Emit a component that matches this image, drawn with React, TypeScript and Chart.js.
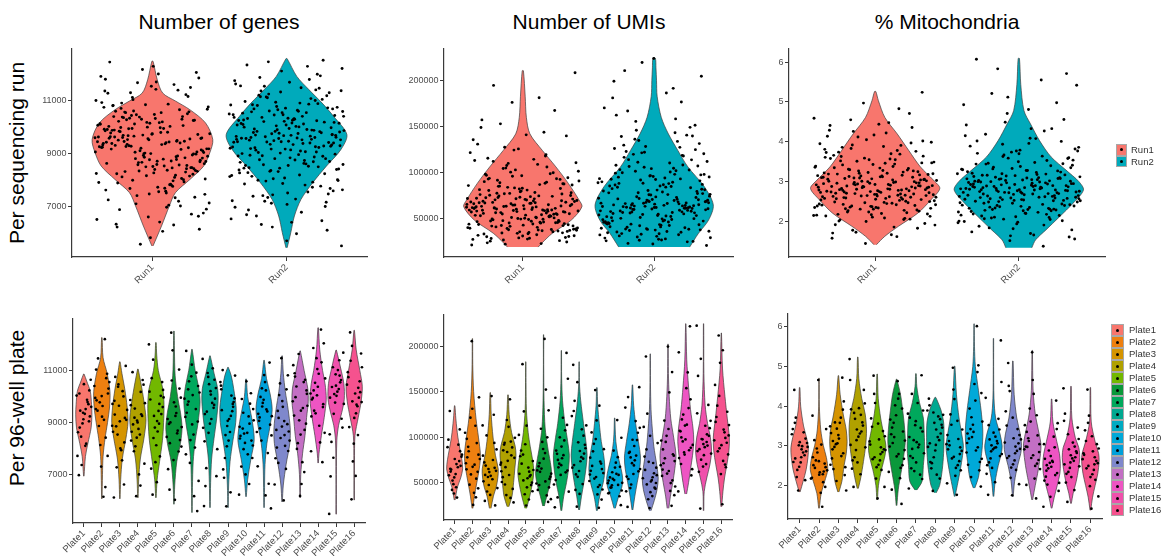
import React, { useEffect, useRef } from "react";
import { Chart, registerables } from "chart.js";

Chart.register(...registerables);

// ---------------- categories / labels ----------------
const RUNS = ["Run1", "Run2"];
const PLATES = ["Plate1", "Plate2", "Plate3", "Plate4", "Plate5", "Plate6", "Plate7", "Plate8",
  "Plate9", "Plate10", "Plate11", "Plate12", "Plate13", "Plate14", "Plate15", "Plate16"];
const RUN_COLORS = ["#F8766D", "#00AABB"];
const PLATE_COLORS = ["#F8766D", "#EE8010", "#D59400", "#B0A100", "#72B800", "#0A983A", "#00A85C", "#00A890",
  "#00ABC2", "#00A9D9", "#00A0DA", "#7F88CC", "#C36FC4", "#EE55C3", "#F050AC", "#F5528E"];
const TITLES = ["Number of genes", "Number of UMIs", "% Mitochondria"];
const ROW_LABELS = ["Per sequencing run", "Per 96-well plate"];

// ---------------- tick labels ----------------
const GENES_TICKS = [7000, 9000, 11000];
const UMI_TICKS = [50000, 100000, 150000, 200000];
const MITO_TICKS = [2, 3, 4, 5, 6];

// ---------------- violin outlines (value levels, relative half-widths) ----------------
const GENES_RUN_LEVELS = [
  [5520, 6270, 7030, 7530, 8030, 8540, 9040, 9540, 10170, 10670, 11000, 11300, 11800, 12500],
  [5450, 6020, 6650, 7280, 7900, 8535, 9160, 9730, 10420, 10920, 11430, 11930, 12600],
];
const GENES_RUN_WIDTHS = [
  [0.01, 0.15, 0.28, 0.38, 0.62, 0.85, 0.95, 1.0, 0.88, 0.62, 0.38, 0.17, 0.08, 0.01],
  [0.01, 0.07, 0.13, 0.24, 0.43, 0.66, 0.9, 1.0, 0.78, 0.59, 0.37, 0.17, 0.01],
];
const UMI_RUN_LEVELS = [
  [18600, 22800, 33700, 48000, 62600, 70000, 88000, 106000, 124000, 142000, 160000, 183000, 210800],
  [18600, 33700, 48000, 64500, 84300, 106000, 124000, 142000, 160000, 183000, 200000, 214000, 224500],
];
const UMI_RUN_WIDTHS = [
  [0.26, 0.32, 0.5, 0.82, 1.0, 0.95, 0.77, 0.56, 0.33, 0.12, 0.06, 0.04, 0.01],
  [0.6, 0.75, 0.92, 1.0, 0.85, 0.57, 0.4, 0.24, 0.12, 0.05, 0.04, 0.03, 0.02],
];
const MITO_RUN_LEVELS = [
  [1.42, 1.63, 1.88, 2.21, 2.54, 2.83, 3.04, 3.37, 3.78, 4.2, 4.61, 5.03, 5.26],
  [1.34, 1.54, 1.79, 2.12, 2.46, 2.79, 3.0, 3.29, 3.62, 4.03, 4.45, 4.78, 5.44, 6.09],
];
const MITO_RUN_WIDTHS = [
  [0.02, 0.15, 0.36, 0.66, 0.86, 1.0, 0.9, 0.7, 0.52, 0.34, 0.15, 0.05, 0.01],
  [0.2, 0.26, 0.42, 0.63, 0.84, 1.0, 0.93, 0.73, 0.5, 0.32, 0.18, 0.08, 0.03, 0.01],
];

const GENES_PLATE_LEVELS = [
  [6940, 7700, 8200, 8800, 9300, 9700, 10200, 10600, 10870],
  [6070, 7000, 7700, 8400, 9000, 9600, 10200, 10900, 11500, 12270],
  [6070, 6800, 7600, 8400, 9000, 9600, 10300, 10900, 11340],
  [6110, 6800, 7600, 8400, 9100, 9700, 10300, 10800, 11060],
  [6110, 6800, 7500, 8300, 9000, 9700, 10300, 11000, 11600, 12080],
  [5860, 6600, 7500, 8200, 8800, 9400, 10000, 10800, 11800, 12520],
  [5540, 6500, 7500, 8300, 9000, 9800, 10400, 11000, 11820],
  [5730, 6700, 7600, 8400, 9100, 9800, 10300, 10900, 11570],
  [5730, 6600, 7500, 8300, 9000, 9600, 10300, 10800, 11130],
  [6150, 6800, 7600, 8300, 8900, 9500, 10000, 10680],
  [5730, 6500, 7400, 8200, 8800, 9500, 10100, 10700, 11400],
  [5950, 6600, 7400, 8200, 8800, 9500, 10200, 10900, 11570],
  [6110, 7000, 7800, 8500, 9200, 9800, 10300, 11000, 11760],
  [7445, 7800, 8500, 9200, 9900, 10500, 11000, 11800, 12650],
  [5476, 7000, 8300, 8900, 9400, 9900, 10500, 11100, 11790],
  [6020, 7500, 8500, 9200, 9800, 10400, 11000, 11800, 12550],
];
const GENES_PLATE_WIDTHS = [
  [0.03, 0.2, 0.5, 0.9, 1.0, 0.95, 0.8, 0.35, 0.03],
  [0.03, 0.08, 0.15, 0.4, 0.7, 0.95, 1.0, 0.65, 0.15, 0.03],
  [0.03, 0.1, 0.3, 0.75, 1.0, 0.9, 0.6, 0.25, 0.03],
  [0.03, 0.1, 0.3, 0.75, 1.0, 0.8, 0.5, 0.2, 0.03],
  [0.03, 0.15, 0.45, 0.8, 0.95, 1.0, 0.85, 0.3, 0.1, 0.03],
  [0.03, 0.1, 0.35, 0.8, 1.0, 0.8, 0.45, 0.15, 0.06, 0.03],
  [0.03, 0.06, 0.15, 0.4, 0.75, 1.0, 0.8, 0.4, 0.03],
  [0.03, 0.08, 0.2, 0.5, 0.8, 1.0, 0.95, 0.5, 0.03],
  [0.03, 0.08, 0.25, 0.6, 0.95, 1.0, 0.7, 0.4, 0.03],
  [0.03, 0.2, 0.6, 1.0, 0.85, 0.5, 0.2, 0.03],
  [0.03, 0.06, 0.12, 0.35, 0.7, 1.0, 0.75, 0.3, 0.03],
  [0.03, 0.15, 0.5, 0.95, 1.0, 0.75, 0.4, 0.15, 0.03],
  [0.03, 0.08, 0.3, 0.6, 0.8, 1.0, 0.95, 0.5, 0.03],
  [0.03, 0.1, 0.4, 0.75, 1.0, 0.85, 0.55, 0.2, 0.03],
  [0.03, 0.03, 0.08, 0.3, 0.7, 1.0, 0.95, 0.55, 0.03],
  [0.03, 0.04, 0.1, 0.5, 0.85, 1.0, 0.7, 0.25, 0.03],
];

const UMI_PLATE_LEVELS = [
  [30700, 45000, 55000, 65000, 75000, 85000, 100000, 120000, 134500],
  [21600, 35000, 50000, 65000, 80000, 100000, 120000, 150000, 180000, 208400],
  [21600, 35000, 45000, 55000, 65000, 80000, 100000, 125000, 149000],
  [23400, 35000, 50000, 65000, 80000, 90000, 105000, 125000, 146500],
  [21600, 35000, 50000, 62000, 75000, 90000, 105000, 130000, 160000, 182900],
  [24100, 35000, 48000, 60000, 72000, 90000, 110000, 140000, 180000, 212700],
  [19000, 35000, 50000, 65000, 80000, 95000, 115000, 140000, 165000, 195300],
  [19800, 35000, 50000, 65000, 80000, 95000, 115000, 140000, 160000, 182900],
  [19000, 35000, 50000, 65000, 80000, 95000, 115000, 135000, 154500],
  [21600, 35000, 45000, 55000, 65000, 80000, 95000, 110000, 121000],
  [19800, 35000, 50000, 65000, 78000, 95000, 115000, 135000, 157400],
  [19000, 30000, 42000, 55000, 70000, 90000, 110000, 130000, 160000, 191600],
  [21600, 35000, 50000, 65000, 80000, 100000, 120000, 145000, 170000, 202500],
  [37300, 50000, 65000, 80000, 95000, 110000, 130000, 155000, 185000, 224800],
  [19000, 40000, 55000, 70000, 85000, 100000, 115000, 135000, 170000, 224800],
  [23400, 40000, 55000, 70000, 85000, 100000, 120000, 145000, 175000, 214600],
];
const UMI_PLATE_WIDTHS = [
  [0.05, 0.35, 0.75, 1.0, 0.9, 0.7, 0.4, 0.15, 0.03],
  [0.05, 0.25, 0.55, 0.85, 1.0, 0.75, 0.45, 0.15, 0.04, 0.02],
  [0.1, 0.4, 0.75, 0.95, 1.0, 0.65, 0.35, 0.12, 0.03],
  [0.1, 0.5, 0.7, 0.85, 1.0, 0.9, 0.45, 0.15, 0.03],
  [0.1, 0.5, 0.85, 1.0, 0.85, 0.55, 0.3, 0.08, 0.03, 0.02],
  [0.1, 0.4, 0.8, 1.0, 0.85, 0.5, 0.2, 0.06, 0.02, 0.02],
  [0.05, 0.3, 0.65, 0.9, 1.0, 0.8, 0.45, 0.15, 0.04, 0.02],
  [0.05, 0.3, 0.6, 0.85, 1.0, 0.85, 0.55, 0.2, 0.04, 0.02],
  [0.05, 0.35, 0.8, 1.0, 0.85, 0.55, 0.3, 0.1, 0.03],
  [0.08, 0.5, 0.9, 1.0, 0.8, 0.4, 0.15, 0.06, 0.03],
  [0.05, 0.3, 0.6, 0.9, 1.0, 0.75, 0.4, 0.15, 0.03],
  [0.1, 0.5, 0.85, 1.0, 0.8, 0.45, 0.25, 0.1, 0.03, 0.02],
  [0.1, 0.3, 0.6, 0.85, 1.0, 0.7, 0.35, 0.15, 0.05, 0.02],
  [0.1, 0.35, 0.6, 0.85, 1.0, 0.9, 0.6, 0.35, 0.12, 0.02],
  [0.03, 0.08, 0.4, 0.8, 1.0, 0.85, 0.5, 0.2, 0.04, 0.02],
  [0.05, 0.2, 0.4, 0.7, 0.95, 1.0, 0.75, 0.45, 0.15, 0.02],
];

const MITO_PLATE_LEVELS = [
  [1.83, 2.1, 2.4, 2.7, 2.95, 3.2, 3.5, 4.0, 4.47],
  [1.42, 1.8, 2.1, 2.4, 2.7, 3.0, 3.4, 4.0, 4.71],
  [1.83, 2.1, 2.5, 2.8, 3.1, 3.4, 3.8, 4.3, 4.77],
  [1.92, 2.2, 2.6, 3.0, 3.4, 3.8, 4.2, 4.7, 5.24],
  [1.63, 2.0, 2.4, 2.75, 3.0, 3.3, 3.7, 4.2, 4.81],
  [1.49, 1.9, 2.3, 2.7, 3.1, 3.5, 3.9, 4.3, 4.68],
  [1.88, 2.1, 2.5, 2.9, 3.3, 3.7, 4.1, 4.5, 4.82],
  [1.81, 2.0, 2.4, 2.8, 3.2, 3.6, 3.9, 4.1, 4.22],
  [1.72, 2.0, 2.4, 2.75, 3.0, 3.3, 3.7, 4.3, 5.01],
  [1.93, 2.2, 2.6, 3.0, 3.4, 3.9, 4.4, 5.0, 5.5, 6.08],
  [1.72, 2.1, 2.5, 2.8, 3.0, 3.3, 3.7, 4.2, 5.0, 5.71],
  [1.71, 2.1, 2.5, 2.8, 3.0, 3.3, 3.7, 4.3, 5.14],
  [1.63, 2.0, 2.4, 2.8, 3.05, 3.4, 3.8, 4.4, 5.41],
  [1.42, 1.7, 2.0, 2.3, 2.55, 2.8, 3.1, 3.6, 4.18],
  [1.54, 1.8, 2.1, 2.4, 2.7, 2.95, 3.2, 3.7, 4.5],
  [1.37, 1.7, 2.0, 2.3, 2.6, 2.8, 3.1, 3.6, 4.47],
];
const MITO_PLATE_WIDTHS = [
  [0.05, 0.4, 0.75, 0.95, 1.0, 0.8, 0.45, 0.12, 0.03],
  [0.04, 0.25, 0.65, 1.0, 0.85, 0.5, 0.2, 0.04, 0.02],
  [0.06, 0.4, 0.65, 0.9, 1.0, 0.9, 0.55, 0.2, 0.03],
  [0.06, 0.35, 0.65, 0.9, 1.0, 0.85, 0.45, 0.12, 0.03],
  [0.04, 0.15, 0.5, 0.9, 1.0, 0.75, 0.4, 0.12, 0.03],
  [0.04, 0.2, 0.5, 0.8, 1.0, 0.9, 0.7, 0.45, 0.03],
  [0.1, 0.7, 0.85, 1.0, 0.95, 0.85, 0.4, 0.1, 0.03],
  [0.1, 0.5, 0.8, 0.95, 1.0, 0.95, 0.65, 0.3, 0.05],
  [0.04, 0.3, 0.65, 0.9, 1.0, 0.8, 0.5, 0.2, 0.03],
  [0.08, 0.5, 0.75, 0.95, 1.0, 0.8, 0.5, 0.15, 0.05, 0.02],
  [0.04, 0.2, 0.55, 0.9, 1.0, 0.75, 0.25, 0.06, 0.02, 0.02],
  [0.04, 0.2, 0.55, 0.9, 1.0, 0.85, 0.45, 0.15, 0.03],
  [0.04, 0.35, 0.7, 0.95, 1.0, 0.7, 0.35, 0.1, 0.02],
  [0.04, 0.3, 0.65, 0.95, 1.0, 0.9, 0.6, 0.15, 0.03],
  [0.04, 0.25, 0.6, 0.85, 1.0, 0.9, 0.5, 0.1, 0.03],
  [0.04, 0.25, 0.55, 0.85, 1.0, 0.95, 0.55, 0.1, 0.03],
];

// ---------------- individual cells (points) ----------------
const GENES_RUN_POINTS = [
  [9420, 8130, 10260, 7480, 9870, 8790, 11130, 9050, 6420, 10610, 8560, 9710, 7920, 10040, 9280, 8340, 12310, 9590, 7030, 10480,
    8910, 9960, 6890, 8480, 10190, 9340, 11620, 7690, 9150, 8720, 10830, 9480, 5580, 8260, 9820, 10370, 7360, 9010, 8640, 11410,
    9670, 8050, 10560, 6230, 9230, 8870, 10120, 7810, 9540, 11870, 8410, 9790, 10310, 8590, 7140, 9380, 10720, 8960, 6610, 9930,
    8190, 10450, 9110, 7570, 9640, 11240, 8680, 10080, 9450, 8330, 12080, 9760, 7260, 10670, 8820, 9190, 6070, 10230, 9560, 8510,
    10940, 7980, 9310, 8760, 11720, 9890, 8020, 10390, 9070, 6980, 9620, 8440, 10160, 7630, 9510, 11050, 8630, 9990, 6340, 10520,
    8940, 9270, 7850, 10290, 9730, 8280, 12470, 9170, 7420, 10770, 8540, 9840, 6720, 10010, 9390, 8110, 11310, 9600, 7740, 10410,
    8850, 9210, 6520, 10880, 9470, 8370, 11560, 9920, 7210, 10130, 8710, 9350, 7900, 10590, 9030, 11930, 8470, 9690, 6150, 10340,
    9180, 10410, 8670, 9760, 7590, 10920, 8230, 9530, 11380, 8890, 9960, 6760, 10180, 9320, 8440, 12190, 9640, 7830, 10560, 9070,
    8520, 10040, 9410, 7110, 10690, 8800, 9860, 11510, 8170, 9250, 6310, 10350, 9580, 8600, 10820, 7940, 9120, 11020, 8380, 9700,
    10270, 5830, 9440, 8920, 10620, 7470, 9810, 8250, 11170, 9010, 10140, 8730, 9360, 6640, 10490, 9650, 8070, 11690, 9190, 7700,
    10000, 8480, 9570, 10760, 7340, 9290, 8840, 12020, 9900, 8310, 10310, 9460, 7060, 10580, 8990, 9740, 11290, 8580, 9060, 6910,
    10210, 9520, 8160, 10860, 9240, 7770, 9950, 8700, 11440, 9390, 10070, 8350, 9610, 7520, 10390, 9000, 8780, 11820, 9480, 8000],
  [9720, 10350, 8460, 11020, 9180, 7640, 10610, 9940, 8820, 12130, 9460, 10880, 7210, 9630, 10170, 8290, 11480, 9850, 6540, 10420,
    9050, 8710, 10730, 9590, 7930, 11260, 9310, 10040, 8150, 12540, 9780, 6980, 10560, 8930, 9410, 11710, 8560, 10250, 7450, 9880,
    10920, 9140, 6110, 10480, 8390, 9670, 11150, 8020, 10300, 9520, 7780, 10790, 9260, 8640, 11890, 9990, 7090, 10110, 8880, 9360,
    5520, 10650, 9810, 8250, 11340, 9550, 7560, 10220, 8990, 9700, 12360, 8510, 10470, 9210, 6790, 10830, 9430, 8090, 11570, 9900,
    7350, 10160, 8770, 9620, 11060, 8330, 10380, 9080, 6330, 10700, 9480, 7860, 11420, 9760, 8600, 10020, 9230, 7170, 10560, 8920,
    11810, 9650, 8410, 10270, 6880, 9840, 10950, 8180, 9390, 11220, 7690, 10090, 9010, 8700, 10620, 9530, 5980, 10860, 9300, 8460,
    11640, 9920, 7420, 10190, 8850, 9580, 12010, 8060, 10510, 9110, 6650, 10740, 9690, 8280, 11090, 9450, 7990, 10330, 8950, 9800,
    9910, 10480, 8750, 11160, 9340, 7520, 10280, 9620, 8370, 12230, 9770, 10700, 7010, 9460, 10090, 8530, 11560, 9700, 6410, 10340,
    9240, 8820, 10850, 9530, 8000, 11310, 9180, 10150, 7740, 12480, 9830, 7290, 10590, 8910, 9580, 11770, 8620, 10380, 7600, 9960,
    10980, 9070, 6230, 10420, 8200, 9710, 11200, 7880, 10260, 9410, 7970, 10760, 9350, 8480, 11950, 10060, 7230, 10130, 8780, 9290,
    5710, 10540, 9890, 8340, 11390, 9600, 7400, 10200, 9030, 9660, 12310, 8590, 10450, 9150, 6700, 10900, 9500, 8140, 11500, 9850,
    7480, 10230, 8680, 9550, 11120, 8430, 10310, 9200, 6470, 10670, 9440, 7820, 11380, 9730, 8560, 10010, 9270, 7130, 10600, 8970],
];
const UMI_RUN_POINTS = [
  [62400, 48300, 87600, 35200, 71900, 55800, 104300, 41700, 66200, 29800, 93100, 58400, 121500, 45600, 77300, 24100, 63800, 52700, 98600, 38900,
    69400, 114200, 47100, 82500, 33600, 60700, 143800, 56200, 74800, 27300, 89900, 50400, 65900, 39800, 108700, 61300, 44200, 79600, 31400, 57600,
    127400, 68300, 46800, 92700, 36100, 64500, 20900, 53900, 84800, 42900, 70600, 157200, 59100, 37500, 101200, 66900, 49200, 76400, 28600, 61900,
    117800, 54600, 86300, 34500, 72300, 45100, 95800, 58900, 181300, 40600, 67400, 30700, 81200, 51500, 63100, 110600, 43800, 75100, 25600, 59800,
    135600, 48900, 88700, 36800, 69900, 55300, 99700, 41200, 65100, 32100, 194800, 57100, 78900, 46300, 105900, 62800, 38100, 73600, 23200, 54100,
    124300, 67800, 44700, 91400, 35700, 60200, 148900, 52300, 83700, 39400, 71200, 27900, 63400, 49800, 112900, 58300, 42200, 77900, 33100, 66600,
    167400, 50900, 85600, 37200, 70100, 56700, 96400, 43300, 64700, 21800, 208600, 59600, 80300, 47600, 102700, 61600, 36400, 74300, 30200, 53400,
    58700, 73900, 44900, 90600, 51200, 67300, 34100, 81900, 62600, 119300, 47400, 70900, 28300, 96900, 55100, 64300, 39200, 86700, 60100, 139800,
    42500, 75800, 52900, 107500, 36900, 68900, 25100, 92400, 57300, 65800, 46000, 152900, 63700, 80700, 32800, 54400, 100300, 71600, 40100, 61200,
    87300, 49100, 130800, 59400, 76700, 30900, 66400, 115400, 45400, 83100, 56900, 22400, 72700, 94200, 50100, 63000, 37800, 109800, 58000, 78100,
    41500, 69100, 125600, 53200, 88200, 33900, 65000, 48600, 98100, 60800, 176300, 43600, 74400, 56000, 29100, 82800, 67000, 51900, 104700, 38500,
    61500, 93500, 46600, 71300, 27000, 59000, 85000, 54900, 140900, 68600, 35400, 77100, 62000, 50500, 112000, 42000, 73000, 57800, 89400, 26300],
  [64800, 92300, 47200, 118600, 71500, 35800, 83900, 56300, 139700, 68200, 25400, 101800, 59700, 76900, 43100, 162400, 66700, 88100, 31900, 110300,
    62100, 52900, 95600, 40800, 127300, 73400, 20300, 86500, 57900, 149100, 69800, 45700, 104600, 61200, 37400, 80700, 199300, 54800, 91700, 28700,
    66100, 116400, 49600, 75300, 34200, 133800, 63300, 97800, 42400, 71100, 58600, 121900, 39100, 84600, 22600, 106900, 65400, 50700, 176800, 77800,
    60400, 93900, 33300, 113700, 68900, 46400, 143200, 56900, 81600, 27100, 99200, 63900, 219800, 53600, 87800, 38200, 124800, 70400, 44300, 65700,
    155600, 59200, 78600, 30800, 102600, 67300, 48400, 89300, 36600, 131400, 61800, 55200, 108100, 41900, 74100, 186500, 62700, 24800, 96100, 51800,
    72800, 119700, 46900, 85100, 35100, 140600, 66300, 58100, 100400, 40200, 79300, 224100, 57300, 92900, 29600, 111800, 64100, 49900, 83200, 37900,
    170300, 69300, 43600, 97300, 53100, 126100, 60900, 32600, 88700, 75800, 210900, 55900, 104100, 45300, 67900, 136200, 81100, 26300, 94800, 61500,
    63000, 89700, 48700, 113900, 70200, 37100, 82300, 57000, 134700, 66900, 27500, 99600, 60600, 75600, 44800, 158300, 65900, 86900, 33100, 107800,
    61000, 54100, 93200, 42100, 122800, 72600, 21900, 85200, 58800, 145900, 68400, 47000, 103000, 62300, 38600, 79800, 191600, 55700, 90800, 30300,
    64600, 117900, 50900, 76100, 35600, 129700, 63600, 96500, 43800, 70800, 59500, 120300, 40600, 83800, 24300, 105600, 66500, 52000, 166900, 77000,
    61700, 92600, 34700, 111000, 69600, 47900, 139100, 57600, 80200, 28400, 97900, 64400, 204800, 54500, 86200, 39700, 121300, 71800, 45900, 66000,
    151400, 60100, 77700, 32100, 101200, 68000, 49400, 88000, 38000, 128300, 62900, 56300, 106500, 43000, 73300, 181200, 63500, 26000, 95000, 52500],
];
const MITO_RUN_POINTS = [
  [2.81, 3.42, 2.26, 3.07, 2.58, 3.91, 2.94, 2.13, 3.28, 2.71, 4.36, 2.47, 3.15, 1.86, 2.89, 3.64, 2.35, 3.01, 2.66, 4.12,
    2.52, 3.21, 2.04, 2.97, 3.55, 2.41, 2.78, 3.83, 2.19, 3.12, 2.63, 4.71, 2.85, 3.36, 1.67, 2.74, 3.04, 2.31, 3.73, 2.56,
    2.92, 3.47, 2.09, 3.19, 2.69, 4.05, 2.44, 2.99, 3.31, 1.95, 2.77, 3.58, 2.22, 3.09, 2.61, 4.48, 2.83, 3.25, 2.38, 2.95,
    3.69, 1.78, 2.72, 3.14, 2.49, 3.97, 2.87, 2.16, 3.38, 2.59, 5.24, 2.93, 3.06, 2.28, 3.51, 2.67, 4.22, 2.01, 2.84, 3.23,
    2.54, 3.78, 2.36, 3.02, 2.75, 1.58, 3.33, 2.64, 4.59, 2.91, 2.43, 3.17, 2.11, 3.61, 2.79, 2.98, 2.33, 3.88, 2.57, 3.11,
    1.45, 2.86, 3.44, 2.24, 3.05, 2.68, 4.29, 2.51, 3.27, 1.91, 2.82, 3.52, 2.29, 2.96, 2.62, 4.83, 2.39, 3.18, 2.73, 3.66,
    2.06, 2.88, 3.39, 2.46, 3.08, 2.55, 4.17, 2.76, 3.24, 1.73, 2.9, 3.46, 2.18, 3.0, 2.65, 3.95, 2.42, 3.13, 2.8, 2.34,
    2.74, 3.29, 2.31, 3.03, 2.62, 3.86, 2.9, 2.17, 3.22, 2.69, 4.26, 2.5, 3.12, 1.92, 2.87, 3.59, 2.39, 2.98, 2.71, 4.02,
    2.56, 3.19, 2.08, 2.94, 3.49, 2.45, 2.8, 3.76, 2.24, 3.1, 2.66, 4.55, 2.84, 3.34, 1.71, 2.77, 3.01, 2.35, 3.7, 2.6,
    2.89, 3.43, 2.14, 3.16, 2.7, 3.99, 2.48, 2.96, 3.27, 2.0, 2.79, 3.55, 2.27, 3.06, 2.64, 4.41, 2.82, 3.21, 2.42, 2.93,
    3.63, 1.83, 2.75, 3.11, 2.53, 3.92, 2.86, 2.2, 3.35, 2.61, 4.97, 2.92, 3.04, 2.32, 3.47, 2.68, 4.14, 2.05, 2.81, 3.2,
    2.58, 3.74, 2.4, 3.0, 2.73, 1.62, 3.3, 2.65, 4.44, 2.88, 2.47, 3.14, 2.15, 3.57, 2.78, 2.97, 2.37, 3.81, 2.6, 3.09],
  [2.77, 3.38, 2.19, 3.02, 2.55, 3.86, 2.91, 2.07, 3.24, 2.68, 4.42, 2.43, 3.11, 1.79, 2.85, 3.71, 2.31, 2.97, 2.63, 4.08,
    2.49, 3.17, 1.98, 2.93, 3.53, 2.37, 2.74, 3.96, 2.14, 3.08, 2.59, 4.93, 2.82, 3.32, 1.61, 2.71, 3.01, 2.27, 3.67, 2.52,
    2.88, 3.44, 2.02, 3.15, 2.66, 4.27, 2.4, 2.95, 3.28, 1.88, 2.79, 3.59, 2.16, 3.05, 2.57, 5.71, 2.8, 3.21, 2.33, 2.92,
    3.77, 1.7, 2.69, 3.1, 2.46, 4.15, 2.84, 2.11, 3.35, 2.54, 6.07, 2.9, 3.03, 2.24, 3.48, 2.64, 4.56, 1.94, 2.81, 3.19,
    2.5, 3.82, 2.3, 2.99, 2.72, 1.52, 3.3, 2.61, 5.21, 2.87, 2.38, 3.13, 2.05, 3.63, 2.76, 2.96, 2.28, 4.01, 2.53, 3.07,
    1.38, 2.83, 3.41, 2.21, 3.0, 2.65, 4.71, 2.47, 3.23, 1.84, 2.78, 3.5, 2.25, 2.94, 2.6, 5.42, 2.35, 3.16, 2.7, 3.74,
    2.0, 2.86, 3.36, 2.42, 3.04, 2.51, 4.33, 2.73, 3.2, 1.66, 2.89, 3.45, 2.12, 2.98, 2.62, 5.83, 2.39, 3.09, 2.75, 2.29,
    2.72, 3.31, 2.23, 3.0, 2.58, 3.79, 2.88, 2.1, 3.2, 2.65, 4.33, 2.46, 3.08, 1.82, 2.83, 3.64, 2.34, 2.95, 2.67, 4.02,
    2.52, 3.14, 2.01, 2.9, 3.46, 2.4, 2.77, 3.89, 2.18, 3.06, 2.61, 4.81, 2.8, 3.27, 1.64, 2.73, 2.99, 2.3, 3.6, 2.55,
    2.86, 3.4, 2.06, 3.12, 2.69, 4.19, 2.44, 2.93, 3.25, 1.91, 2.78, 3.54, 2.2, 3.03, 2.59, 5.12, 2.82, 3.18, 2.36, 2.9,
    3.7, 1.74, 2.7, 3.07, 2.49, 4.09, 2.85, 2.15, 3.33, 2.56, 5.55, 2.88, 3.01, 2.27, 3.44, 2.63, 4.49, 1.97, 2.79, 3.16,
    2.53, 3.77, 2.33, 2.97, 2.75, 1.56, 3.28, 2.6, 4.98, 2.84, 2.41, 3.1, 2.09, 3.58, 2.74, 2.94, 2.31, 3.94, 2.57, 3.05],
];

const GENES_PLATE_POINTS = [
  [9520, 8810, 10240, 9130, 7720, 9880, 8460, 10650, 9340, 6980, 9710, 8970, 10040, 8190, 9460, 9240, 10480, 8630, 9790, 7370, 9610, 8110, 10120, 9050, 9380],
  [10120, 9230, 11040, 8420, 9780, 10560, 6150, 9460, 10880, 7310, 9950, 12210, 8870, 10310, 9640, 9860, 10710, 8140, 10410, 9110, 11470, 7720, 10020, 9520, 6520],
  [9310, 8240, 10470, 9720, 7550, 8860, 11180, 9050, 6120, 10010, 8540, 9490, 7940, 10760, 9180, 9650, 8650, 10210, 7280, 9110, 8010, 9840, 6620, 10380, 8880],
  [9080, 8310, 10180, 9540, 7420, 8760, 10940, 9260, 6170, 9870, 8540, 7900, 10460, 9010, 8650, 9320, 8090, 9750, 7010, 8930, 10640, 8420, 9670, 6580, 9190],
  [9720, 8410, 10260, 9060, 7230, 10030, 8810, 12010, 9450, 6230, 10560, 8130, 9890, 7700, 9260, 9970, 8660, 10710, 9330, 7480, 10190, 8960, 11420, 9600, 6710],
  [8830, 9620, 8210, 10310, 7560, 9140, 8590, 12460, 9960, 6030, 8950, 7890, 11780, 8450, 9370, 9010, 8330, 9780, 7210, 8690, 10620, 8080, 9260, 6420, 11040],
  [9810, 10410, 8930, 11760, 9520, 7450, 10160, 8540, 9690, 5600, 10780, 9220, 8040, 10590, 6760, 10060, 9380, 10920, 8330, 9920, 6170, 10280, 9040, 11230, 7780],
  [10080, 9330, 10650, 8610, 11450, 9760, 7250, 10330, 8960, 5790, 9570, 10910, 7980, 9140, 6560, 9920, 10480, 8800, 11090, 9420, 6940, 10210, 8280, 9680, 10760],
  [9610, 8870, 10280, 9260, 7640, 9930, 8310, 11020, 9440, 5780, 10560, 8640, 6880, 9790, 9070, 9480, 10040, 8520, 10810, 9140, 7200, 9720, 8090, 10420, 6320],
  [8390, 8960, 7980, 9520, 8610, 7310, 10130, 8220, 6230, 9240, 8770, 7640, 10590, 8490, 9730, 8580, 9090, 7780, 9910, 8310, 7010, 8840, 6640, 9380, 8120],
  [9620, 9250, 10240, 8780, 11310, 9880, 7320, 9430, 8310, 5700, 10560, 9070, 6650, 9760, 8640, 9510, 9990, 8920, 10830, 9340, 7830, 10320, 8510, 6200, 9200],
  [8520, 9180, 7910, 9830, 8720, 7220, 10510, 8310, 6010, 9450, 8940, 11480, 7630, 8110, 10060, 8660, 9610, 8040, 10280, 8410, 6620, 9060, 7450, 10820, 8850],
  [10110, 9460, 10770, 8720, 11640, 9820, 7480, 10390, 8960, 6180, 9270, 10560, 8210, 9650, 6640, 9980, 10650, 9090, 11210, 9560, 7990, 10240, 8540, 10900, 7100],
  [10240, 9710, 11060, 9240, 12580, 10530, 8610, 10880, 9950, 7480, 11480, 10120, 8240, 9460, 12050, 10380, 9890, 11320, 9360, 10700, 8880, 11870, 9600, 10050, 7900],
  [10420, 9960, 10810, 9340, 11690, 10190, 8260, 10640, 9770, 5490, 10290, 11130, 8810, 10030, 6930, 10550, 10100, 9720, 11020, 10370, 9150, 10860, 8550, 11400, 7650],
  [10340, 9820, 11130, 9360, 12470, 10590, 8190, 10940, 9630, 6050, 11660, 10120, 8830, 9960, 7510, 10460, 9690, 11380, 10170, 9180, 10750, 8520, 11950, 9790, 6950],
];
const UMI_PLATE_POINTS = [
  [70300, 62100, 84500, 55600, 97200, 66800, 41900, 78400, 59300, 128700, 73600, 48200, 88900, 33400, 64200, 68400, 75900, 57900, 91700, 52100, 80600, 44800, 65100, 108400, 37900],
  [80600, 67300, 98100, 54200, 121400, 75900, 38700, 89300, 61800, 205600, 71200, 112500, 47600, 143800, 25300, 77700, 93400, 58900, 104800, 69600, 84400, 43600, 131200, 64500, 33700],
  [58400, 66200, 47300, 79500, 53600, 101800, 62900, 36400, 72100, 124600, 56100, 43900, 145200, 68700, 24800, 61500, 51300, 74800, 40100, 86400, 57400, 29700, 93600, 64900, 112800],
  [83600, 62400, 95100, 47800, 77200, 111300, 55900, 88600, 36200, 69700, 141600, 91800, 28100, 73900, 50600, 79900, 66900, 99200, 58300, 85400, 42900, 118800, 71800, 33100, 93700],
  [61900, 52300, 73600, 44700, 85200, 58200, 37100, 102400, 66400, 180300, 49800, 24700, 78900, 56700, 128300, 63800, 54700, 70700, 47200, 92100, 59600, 31300, 80800, 40400, 112600],
  [59700, 51200, 71400, 44600, 86900, 63300, 35800, 109200, 56400, 208100, 67800, 28600, 94700, 48900, 152300, 61800, 54000, 76200, 41900, 99800, 65300, 31700, 82400, 47200, 129500],
  [74900, 63100, 89600, 52700, 107400, 70800, 39900, 121300, 81600, 192600, 58400, 22700, 96300, 66700, 164200, 76700, 85200, 61200, 99800, 47800, 80100, 33600, 113400, 69100, 143300],
  [84700, 69200, 101600, 56300, 123100, 77900, 41800, 91500, 62700, 179600, 48300, 23400, 112800, 73400, 139900, 81900, 94200, 66300, 108600, 58900, 87700, 37400, 128700, 76200, 160400],
  [64800, 56100, 77300, 47200, 92600, 60400, 36900, 105100, 70900, 151800, 51700, 22100, 84300, 42300, 118400, 62900, 73100, 54300, 86700, 45100, 68300, 31200, 97800, 58800, 134600],
  [52100, 47400, 61300, 41200, 71800, 55600, 34900, 85200, 49300, 118700, 44600, 25100, 66400, 38700, 58400, 54100, 49700, 59600, 44400, 67300, 52700, 38100, 77900, 47000, 99300],
  [77600, 64800, 90200, 53900, 104800, 71300, 40300, 117600, 83700, 154900, 59400, 23100, 96700, 47800, 132500, 74400, 82600, 62300, 97100, 56500, 79700, 43900, 110200, 68800, 144100],
  [55800, 47900, 66300, 39400, 78600, 60200, 31600, 93400, 52700, 188700, 43200, 21900, 111200, 71500, 125800, 58100, 51100, 63900, 44300, 72800, 54700, 35100, 86400, 49500, 101400],
  [73600, 62700, 86400, 52300, 101400, 69100, 40800, 118200, 79500, 199600, 57300, 24300, 94700, 45600, 149200, 71200, 81100, 59800, 96200, 49400, 76600, 36100, 108900, 64200, 171600],
  [99600, 88300, 112700, 76900, 131900, 95200, 64700, 153800, 106300, 221900, 83100, 40200, 171200, 119400, 57800, 97400, 106900, 85500, 124800, 91400, 113700, 70400, 141600, 80800, 193300],
  [92300, 84600, 103100, 75200, 117900, 88900, 61800, 135400, 97600, 222600, 70300, 21300, 109800, 80100, 167300, 90700, 97900, 81900, 112500, 86700, 101400, 67600, 126200, 94600, 186100],
  [99100, 87600, 113200, 73800, 134600, 93800, 59300, 157400, 105200, 211800, 80900, 26100, 122100, 66800, 181700, 96400, 108300, 84300, 127900, 91100, 116700, 69800, 145300, 101800, 195600],
];
const MITO_PLATE_POINTS = [
  [2.91, 2.68, 3.18, 2.47, 3.42, 2.83, 2.21, 3.07, 2.58, 4.41, 2.76, 1.87, 3.29, 2.99, 3.71, 2.86, 3.09, 2.59, 3.34, 2.39, 2.97, 2.71, 3.58, 2.13, 3.01],
  [2.46, 2.27, 2.71, 2.08, 2.93, 2.38, 1.81, 3.14, 2.55, 4.66, 2.19, 1.46, 2.63, 3.42, 2.33, 2.51, 2.35, 2.83, 2.17, 3.03, 2.44, 1.96, 2.61, 3.76, 2.28],
  [3.12, 2.81, 3.43, 2.52, 3.71, 2.97, 2.26, 3.27, 2.68, 4.72, 3.04, 1.87, 3.58, 2.41, 4.12, 3.06, 3.32, 2.74, 3.59, 2.46, 3.18, 2.91, 3.91, 2.11, 3.49],
  [3.41, 3.02, 3.78, 2.71, 4.07, 3.23, 2.42, 3.59, 2.89, 5.19, 3.31, 1.96, 4.41, 2.58, 3.92, 3.36, 3.68, 2.96, 3.95, 2.63, 3.51, 3.14, 4.66, 2.28, 3.83],
  [2.96, 2.71, 3.24, 2.52, 3.48, 2.84, 2.17, 3.11, 2.63, 4.77, 2.91, 1.67, 3.69, 2.39, 4.08, 2.89, 3.16, 2.66, 3.37, 2.46, 3.03, 2.79, 4.31, 1.96, 3.56],
  [3.13, 2.79, 3.46, 2.51, 3.77, 2.98, 2.18, 3.58, 2.67, 4.63, 3.29, 1.53, 4.02, 2.34, 4.31, 3.07, 3.36, 2.73, 3.66, 2.44, 3.22, 2.89, 4.19, 1.89, 3.94],
  [2.92, 3.36, 2.58, 3.71, 2.27, 3.14, 2.81, 4.08, 2.43, 4.78, 3.52, 1.92, 3.03, 2.69, 3.89, 3.09, 2.74, 3.45, 2.36, 3.81, 2.96, 4.31, 2.16, 3.62, 3.22],
  [3.41, 3.06, 3.67, 2.71, 3.89, 3.22, 2.43, 3.53, 2.88, 4.19, 3.14, 1.86, 3.78, 2.27, 2.59, 3.31, 3.58, 2.97, 3.74, 2.56, 3.46, 3.02, 4.02, 2.17, 3.84],
  [2.96, 2.72, 3.27, 2.51, 3.53, 2.87, 2.24, 3.12, 2.61, 4.97, 3.04, 1.76, 3.79, 2.38, 4.18, 2.91, 3.17, 2.68, 3.41, 2.44, 3.01, 2.79, 4.42, 2.05, 3.63],
  [3.31, 2.96, 3.72, 2.67, 4.14, 3.18, 2.38, 3.53, 2.83, 6.02, 3.42, 1.97, 4.56, 2.52, 5.03, 3.22, 3.61, 2.88, 3.94, 2.59, 3.35, 3.07, 4.86, 2.21, 4.33],
  [3.01, 2.79, 3.23, 2.58, 3.41, 2.91, 2.29, 3.12, 2.68, 5.66, 2.95, 1.76, 3.68, 2.44, 4.21, 2.96, 3.16, 2.74, 3.33, 2.51, 3.06, 2.86, 4.61, 2.08, 3.52],
  [2.98, 2.74, 3.27, 2.53, 3.51, 2.87, 2.19, 3.16, 2.63, 5.09, 3.06, 1.75, 3.87, 2.39, 4.38, 2.92, 3.19, 2.69, 3.42, 2.45, 3.08, 2.81, 4.51, 2.03, 3.71],
  [3.04, 2.76, 3.35, 2.55, 3.61, 2.91, 2.17, 3.19, 2.64, 5.36, 2.98, 1.67, 3.94, 2.41, 4.31, 2.97, 3.26, 2.69, 3.52, 2.49, 3.12, 2.84, 4.66, 2.01, 3.77],
  [2.51, 2.31, 2.74, 2.12, 2.96, 2.43, 1.86, 2.62, 2.22, 4.14, 2.57, 1.46, 3.23, 2.02, 3.57, 2.47, 2.67, 2.26, 2.88, 2.06, 2.59, 2.37, 3.42, 1.71, 3.04],
  [2.76, 2.53, 2.98, 2.34, 3.17, 2.68, 2.07, 2.86, 2.44, 4.45, 2.62, 1.58, 3.46, 2.21, 3.81, 2.71, 2.91, 2.48, 3.08, 2.29, 2.82, 2.58, 3.63, 1.88, 3.29],
  [2.71, 2.49, 2.93, 2.28, 3.12, 2.62, 1.98, 2.81, 2.39, 4.42, 2.56, 1.41, 3.39, 2.14, 3.76, 2.66, 2.86, 2.43, 3.04, 2.21, 2.77, 2.53, 3.58, 1.72, 3.24],
];

// ---------------- styling / layout ----------------
const FONT = '"Liberation Sans", Arial, Helvetica, sans-serif';
const TICK_COLOR = "#4D4D4D";
const AXIS_COLOR = "#3A3A3A";
const HALF_WIDTH = 0.45;
const JITTER = 0.43;
const Y_AXIS_W = 70;
const X_AXIS_H = 46;
const PAD_T = 6;
const PAD_R = 6;

function jitterOffset(i: number, g: number): number {
  const f = ((i + 1) * 0.6180339887 + g * 0.2763932) % 1;
  return (f - 0.5) * 2 * JITTER;
}

type PanelProps = {
  left: number; top: number; right: number; bottom: number;
  labels: string[]; colors: string[];
  levels: number[][]; widths: number[][]; points: number[][];
  yMin: number; yMax: number; yTicks: number[];
  ptRadius: number;
};

function Panel(p: PanelProps) {
  const ref = useRef<HTMLCanvasElement | null>(null);
  const w = p.right - p.left + Y_AXIS_W + PAD_R;
  const h = p.bottom - p.top + PAD_T + X_AXIS_H;
  useEffect(() => {
    if (!ref.current) return;
    const datasets: any[] = [];
    p.labels.forEach((_, g) => {
      const xc = g + 1;
      const lv = p.levels[g];
      const wd = p.widths[g];
      const outline: { x: number; y: number }[] = [];
      for (let k = 0; k < lv.length; k++) outline.push({ x: xc + wd[k] * HALF_WIDTH, y: lv[k] });
      for (let k = lv.length - 1; k >= 0; k--) outline.push({ x: xc - wd[k] * HALF_WIDTH, y: lv[k] });
      datasets.push({
        data: outline, showLine: true, fill: "shape", backgroundColor: p.colors[g],
        borderColor: "#3D3D3D", borderWidth: 0.7, pointRadius: 0, pointHoverRadius: 0,
        tension: 0.3, order: 2,
      });
    });
    p.labels.forEach((_, g) => {
      datasets.push({
        data: p.points[g].map((v, i) => ({ x: g + 1 + jitterOffset(i, g), y: v })),
        showLine: false, pointRadius: p.ptRadius, pointHoverRadius: p.ptRadius,
        backgroundColor: "#000000", borderWidth: 0, order: 1,
      });
    });
    const n = p.labels.length;
    const chart = new Chart(ref.current, {
      type: "scatter",
      data: { datasets },
      options: {
        animation: false,
        responsive: false,
        events: [],
        layout: { padding: { top: PAD_T, right: PAD_R, left: 0, bottom: 0 } },
        plugins: { legend: { display: false }, tooltip: { enabled: false } },
        scales: {
          x: {
            type: "linear", min: 0.4, max: n + 0.6,
            afterBuildTicks: (s: any) => { s.ticks = p.labels.map((_, i) => ({ value: i + 1 })); },
            afterFit: (s: any) => { s.height = X_AXIS_H; },
            ticks: {
              autoSkip: false, maxRotation: 45, minRotation: 45, color: TICK_COLOR, padding: 1,
              font: { family: FONT, size: 9.5 },
              callback: (v: any) => p.labels[Math.round(Number(v)) - 1],
            },
            grid: { display: true, drawOnChartArea: false, drawTicks: true, tickLength: 4, color: AXIS_COLOR, lineWidth: 1 },
            border: { display: true, color: AXIS_COLOR, width: 1.2 },
          },
          y: {
            type: "linear", min: p.yMin, max: p.yMax,
            afterBuildTicks: (s: any) => { s.ticks = p.yTicks.map((v) => ({ value: v })); },
            afterFit: (s: any) => { s.width = Y_AXIS_W; },
            ticks: {
              color: TICK_COLOR, padding: 1.5, font: { family: FONT, size: 9 },
              callback: (v: any) => String(v),
            },
            grid: { display: true, drawOnChartArea: false, drawTicks: true, tickLength: 4, color: AXIS_COLOR, lineWidth: 1 },
            border: { display: true, color: AXIS_COLOR, width: 1.2 },
          },
        },
      } as any,
    });
    return () => chart.destroy();
  }, []);
  return (
    <canvas
      ref={ref}
      width={w}
      height={h}
      style={{ position: "absolute", left: p.left - Y_AXIS_W, top: p.top - PAD_T, width: w, height: h }}
    />
  );
}

function Legend(props: { labels: string[]; colors: string[]; left: number; top: number; boxW: number; rowH: number; textLeft: number }) {
  return (
    <>
      {props.labels.map((lab, i) => (
        <React.Fragment key={lab}>
          <div
            style={{
              position: "absolute", left: props.left, top: props.top + i * props.rowH,
              width: props.boxW, height: props.rowH, boxSizing: "border-box",
              background: props.colors[i], border: "1px solid #A8A8A8",
            }}
          >
            <div
              style={{
                position: "absolute", left: "50%", top: "50%", width: 3, height: 3, marginLeft: -1.5, marginTop: -1.5,
                borderRadius: "50%", background: "#000",
              }}
            />
          </div>
          <div
            style={{
              position: "absolute", left: props.textLeft, top: props.top + i * props.rowH, height: props.rowH,
              lineHeight: props.rowH + "px", fontSize: 9.5, color: "#333", whiteSpace: "nowrap",
            }}
          >
            {lab}
          </div>
        </React.Fragment>
      ))}
    </>
  );
}

export default function App() {
  const titleX = [219, 589, 947];
  return (
    <div
      style={{
        position: "fixed", left: 0, top: 0, width: 1165, height: 556, background: "#ffffff",
        overflow: "hidden", fontFamily: FONT, color: "#000",
      }}
    >
      {TITLES.map((t, i) => (
        <div
          key={t}
          style={{
            position: "absolute", left: titleX[i], top: 11, transform: "translateX(-50%)",
            fontSize: 21, lineHeight: "21px", whiteSpace: "nowrap",
          }}
        >
          {t}
        </div>
      ))}
      {ROW_LABELS.map((t, i) => (
        <div
          key={t}
          style={{
            position: "absolute", left: 16, top: i === 0 ? 153 : 408,
            transform: "translate(-50%, -50%) rotate(-90deg)",
            fontSize: 21, lineHeight: "21px", whiteSpace: "nowrap",
          }}
        >
          {t}
        </div>
      ))}

      <Panel left={72} top={48} right={367} bottom={257} labels={RUNS} colors={RUN_COLORS}
        levels={GENES_RUN_LEVELS} widths={GENES_RUN_WIDTHS} points={GENES_RUN_POINTS}
        yMin={5100} yMax={12970} yTicks={GENES_TICKS} ptRadius={1.45} />
      <Panel left={444} top={48} right={733} bottom={257} labels={RUNS} colors={RUN_COLORS}
        levels={UMI_RUN_LEVELS} widths={UMI_RUN_WIDTHS} points={UMI_RUN_POINTS}
        yMin={7800} yMax={234600} yTicks={UMI_TICKS} ptRadius={1.45} />
      <Panel left={789} top={48} right={1105} bottom={257} labels={RUNS} colors={RUN_COLORS}
        levels={MITO_RUN_LEVELS} widths={MITO_RUN_WIDTHS} points={MITO_RUN_POINTS}
        yMin={1.11} yMax={6.33} yTicks={MITO_TICKS} ptRadius={1.45} />

      <Panel left={73} top={318} right={365} bottom={523} labels={PLATES} colors={PLATE_COLORS}
        levels={GENES_PLATE_LEVELS} widths={GENES_PLATE_WIDTHS} points={GENES_PLATE_POINTS}
        yMin={5140} yMax={12990} yTicks={GENES_TICKS} ptRadius={1.35} />
      <Panel left={444} top={314} right={732} bottom={520} labels={PLATES} colors={PLATE_COLORS}
        levels={UMI_PLATE_LEVELS} widths={UMI_PLATE_WIDTHS} points={UMI_PLATE_POINTS}
        yMin={8750} yMax={234500} yTicks={UMI_TICKS} ptRadius={1.35} />
      <Panel left={788} top={313} right={1102} bottom={519} labels={PLATES} colors={PLATE_COLORS}
        levels={MITO_PLATE_LEVELS} widths={MITO_PLATE_WIDTHS} points={MITO_PLATE_POINTS}
        yMin={1.15} yMax={6.33} yTicks={MITO_TICKS} ptRadius={1.35} />

      <Legend labels={RUNS} colors={RUN_COLORS} left={1116} top={144} boxW={11} rowH={11.5} textLeft={1131} />
      <Legend labels={PLATES} colors={PLATE_COLORS} left={1111} top={324} boxW={13} rowH={12} textLeft={1129} />
    </div>
  );
}
